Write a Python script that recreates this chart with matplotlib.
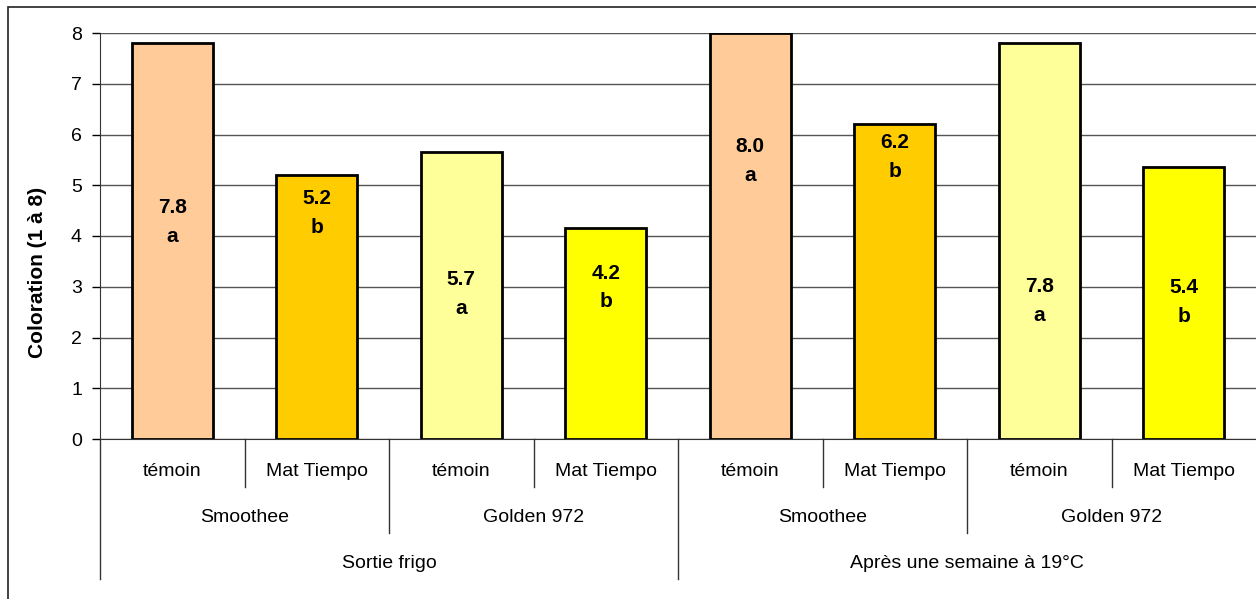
import numpy as np
import matplotlib
matplotlib.use("Agg")
import matplotlib.pyplot as plt
import matplotlib.transforms as mtransforms
from matplotlib.patches import Rectangle

plt.rcParams['font.family'] = ['Liberation Sans', 'DejaVu Sans']

# data
traitements = ["témoin", "Mat Tiempo", "témoin", "Mat Tiempo",
               "témoin", "Mat Tiempo", "témoin", "Mat Tiempo"]
varietes = ["Smoothee", "Golden 972", "Smoothee", "Golden 972"]
periodes = ["Sortie frigo", "Après une semaine à 19°C"]
valeurs = [7.8, 5.2, 5.65, 4.15, 8.0, 6.2, 7.8, 5.35]
etiquettes = ["7.8", "5.2", "5.7", "4.2", "8.0", "6.2", "7.8", "5.4"]
lettres = ["a", "b", "a", "b", "a", "b", "a", "b"]
pos_etiq = [4.57, 4.73, 3.15, 3.27, 5.77, 5.85, 3.0, 2.98]
couleurs = ["#FFCC99", "#FFCC00", "#FFFF99", "#FFFF00"] * 2

fig = plt.figure(figsize=(12.56, 5.99), dpi=100)
ax = fig.add_axes([100/1256, (599-439)/599, 1 - 100/1256, 406/599])

x = np.arange(len(valeurs))
ax.bar(x, valeurs, width=0.56, color=couleurs, edgecolor="black", linewidth=2, zorder=3)

for i in range(len(valeurs)):
    ax.text(x[i], pos_etiq[i], etiquettes[i], ha="center", va="center",
            fontsize=15, fontweight="bold", zorder=4)
    ax.text(x[i], pos_etiq[i] - 0.57, lettres[i], ha="center", va="center",
            fontsize=15, fontweight="bold", zorder=4)

ax.set_xlim(-0.5, 7.5)
ax.set_ylim(0, 8)
ax.set_yticks(range(0, 9))
ax.tick_params(axis="y", labelsize=14, length=6, width=1, direction="out", pad=7)
ax.set_xticks([])
ax.yaxis.grid(True, color="#555555", linewidth=1, zorder=0)
ax.set_axisbelow(True)
for s in ["top", "right"]:
    ax.spines[s].set_visible(False)
ax.spines["left"].set_color("#333333")
ax.spines["bottom"].set_color("#333333")
ax.set_ylabel("Coloration (1 à 8)", fontsize=15, fontweight="bold")
ax.yaxis.set_label_coords(-0.046, 0.41)

# multi-level category axis
trans = mtransforms.blended_transform_factory(ax.transData, ax.transAxes)
y1, y2, y3 = -48/406, -94/406, -140/406
for i in range(len(traitements)):
    ax.text(x[i], -33/406, traitements[i], transform=trans, ha="center", va="center", fontsize=14)
for j in range(len(varietes)):
    ax.text(2*j + 0.5, -79/406, varietes[j], transform=trans, ha="center", va="center", fontsize=14)
for k in range(len(periodes)):
    ax.text(4*k + 1.5, -125/406, periodes[k], transform=trans, ha="center", va="center", fontsize=14)

for b in np.arange(-0.5, 7.6, 1.0):
    if b in (-0.5, 3.5):
        h = y3
    elif b in (1.5, 5.5):
        h = y2
    elif b == 7.5:
        continue
    else:
        h = y1
    ax.plot([b, b], [0, h], transform=trans, color="#333333", linewidth=1, clip_on=False)

# outer chart border
fig.patches.append(Rectangle((8/1256, -0.1), 1.2, 1 - 7/599 + 0.1, transform=fig.transFigure,
                             fill=False, edgecolor="#222222", linewidth=1.2))

fig.savefig("out.png", dpi=100)
